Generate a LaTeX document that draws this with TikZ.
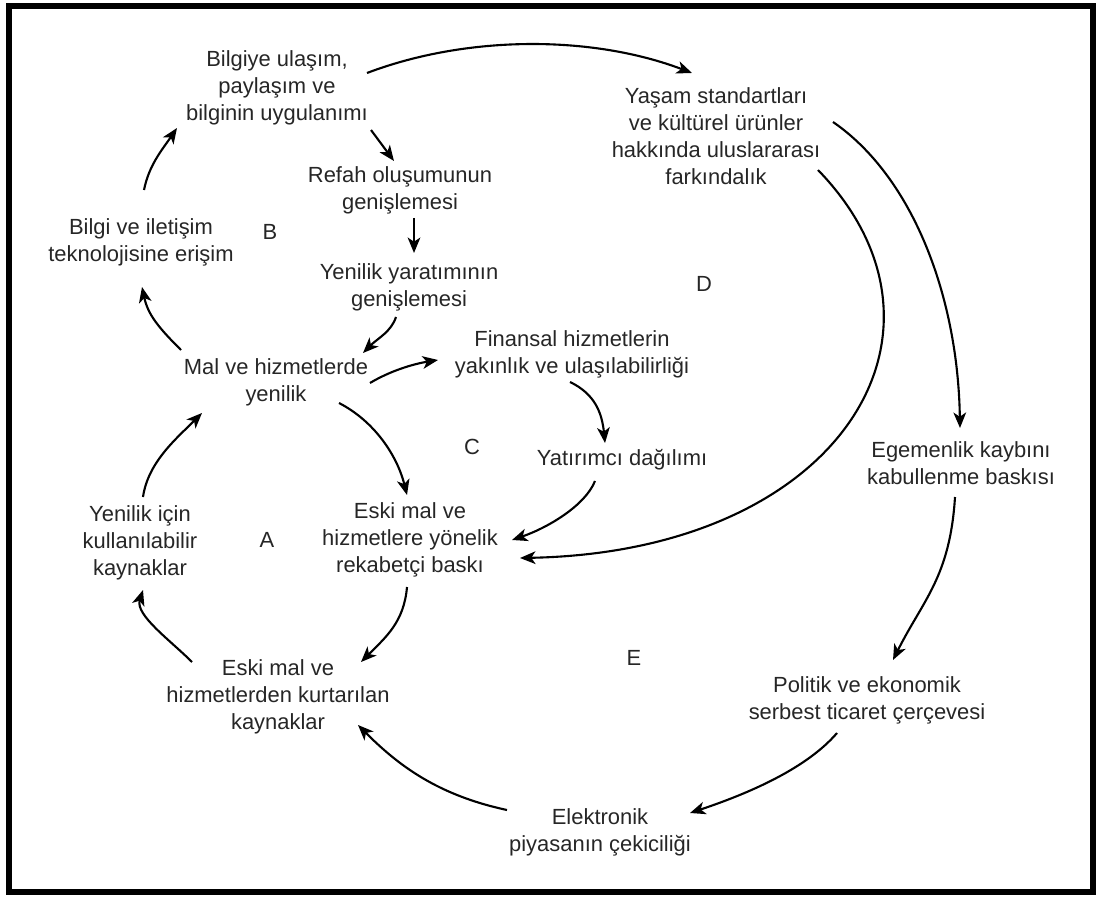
\documentclass[tikz,border=0pt]{standalone}
\usepackage{fontspec}
\setmainfont{Liberation Sans}
\usetikzlibrary{arrows.meta}

\begin{document}
\begin{tikzpicture}[x=0.025cm, y=0.025cm, every node/.style={font=\fontsize{15.6}{19.2}\selectfont, text=black!85, align=center, inner sep=0pt}, link/.style={line width=1.5pt, -{Stealth[length=11pt,width=9pt,inset=3pt]}}]

\useasboundingbox (0,0) rectangle (1097,897);
\draw[line width=4.3pt] (9,5) rectangle (1093,891); % frame

\node (info) at (277,809) {Bilgiye ulaşım,\\paylaşım ve\\bilginin uygulanımı}; % B.1
\node (refah) at (400,707) {Refah oluşumunun\\genişlemesi}; % B.2
\node (yenilik) at (409,610) {Yenilik yaratımının\\genişlemesi}; % B.3
\node (ict) at (141,655) {Bilgi ve iletişim\\teknolojisine erişim}; % B.4
\node (malhiz) at (276,515) {Mal ve hizmetlerde\\yenilik}; % B.5
\node (finans) at (572,543) {Finansal hizmetlerin\\yakınlık ve ulaşılabilirliği}; % C.1
\node (yatirim) at (622,437) {Yatırımcı dağılımı}; % C.2
\node (yasam) at (716,761) {Yaşam standartları\\ve kültürel ürünler\\hakkında uluslararası\\farkındalık}; % D.1
\node (egemen) at (961,434) {Egemenlik kaybını\\kabullenme baskısı}; % E.1
\node (politik) at (867,197) {Politik ve ekonomik\\serbest ticaret çerçevesi}; % E.2
\node (elektro) at (600,65) {Elektronik\\piyasanın çekiciliği}; % E.3
\node (rekabet) at (410,357) {Eski mal ve\\hizmetlere yönelik\\rekabetçi baskı}; % A.1
\node (kurtar) at (278,200) {Eski mal ve\\hizmetlerden kurtarılan\\kaynaklar}; % A.2
\node (kaynak) at (140,354) {Yenilik için\\kullanılabilir\\kaynaklar}; % A.3

\node (labA) at (267,357) {A};
\node (labB) at (270,665) {B};
\node (labC) at (472,450) {C};
\node (labD) at (704,613) {D};
\node (labE) at (634,239) {E};

\draw[link] ([shift={(3,52)}]ict.center) .. controls +(5,25) and +(-15,-22) .. ([shift={(-100,-40)}]info.center); % ict-info
\draw[link] ([shift={(94,-42)}]info.center) -- ([shift={(-6,29)}]refah.center); % info-refah
\draw[link] ([shift={(14,-28)}]refah.center) -- ([shift={(5,34)}]yenilik.center); % refah-yenilik
\draw[link] ([shift={(-13,-30)}]yenilik.center) .. controls +(-5,-15) and +(15,15) .. ([shift={(87,29)}]malhiz.center); % yenilik-malhiz
\draw[link] ([shift={(-95,32)}]malhiz.center) .. controls +(-22,22) and +(6,-28) .. ([shift={(1,-45)}]ict.center); % malhiz-ict
\draw[link] ([shift={(90,15)}]info.center) .. controls +(100,38) and +(-100,38) .. ([shift={(-24,63)}]yasam.center); % info-yasam
\draw[link] ([shift={(94,-1)}]malhiz.center) .. controls +(20,12) and +(-25,-4) .. ([shift={(-134,-6)}]finans.center); % malhiz-finans
\draw[link] ([shift={(63,-21)}]malhiz.center) .. controls +(35,-18) and +(-10,40) .. ([shift={(-3,45)}]rekabet.center); % malhiz-rekabet
\draw[link] ([shift={(-2,-28)}]finans.center) .. controls +(25,-12) and +(-3,30) .. ([shift={(-17,17)}]yatirim.center); % finans-yatirim
\draw[link] ([shift={(-27,-21)}]yatirim.center) .. controls +(-10,-25) and +(35,12) .. ([shift={(102,0)}]rekabet.center); % yatirim-rekabet
\draw[link] ([shift={(102,-34)}]yasam.center) .. controls +(157,-162) and +(320,6) .. ([shift={(110,-18)}]rekabet.center); % yasam-rekabet
\draw[link] ([shift={(117,14)}]yasam.center) .. controls +(80,-55) and +(-2,131) .. ([shift={(-1,35)}]egemen.center); % yasam-egemen
\draw[link] ([shift={(-6,-34)}]egemen.center) .. controls +(-5,-80) and +(30,60) .. ([shift={(26,40)}]politik.center); % egemen-politik
\draw[link] ([shift={(-30,-33)}]politik.center) .. controls +(-30,-35) and +(60,20) .. ([shift={(90,19)}]elektro.center); % politik-elektro
\draw[link] ([shift={(-93,22)}]elektro.center) .. controls +(-70,15) and +(40,-40) .. ([shift={(80,-28)}]kurtar.center); % elektro-kurtar
\draw[link] ([shift={(-3,-47)}]rekabet.center) .. controls +(-3,-35) and +(25,25) .. ([shift={(83,35)}]kurtar.center); % rekabet-kurtar
\draw[link] ([shift={(-86,35)}]kurtar.center) .. controls +(-22,22) and +(-8,-25) .. ([shift={(3,-47)}]kaynak.center); % kurtar-kaynak
\draw[link] ([shift={(3,46)}]kaynak.center) .. controls +(5,35) and +(-25,-25) .. ([shift={(-74,-31)}]malhiz.center); % kaynak-malhiz

\end{tikzpicture}
\end{document}
